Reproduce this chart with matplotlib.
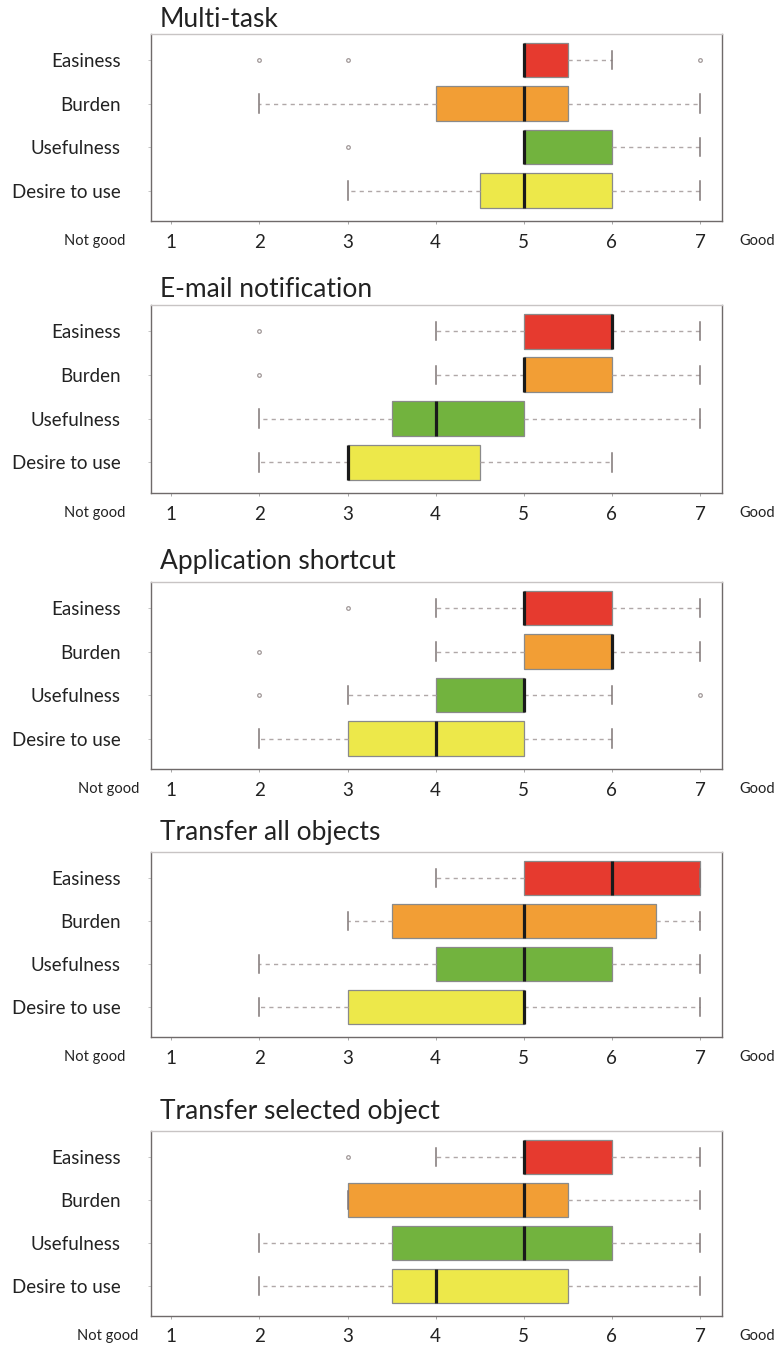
import matplotlib
matplotlib.use("Agg")
import matplotlib.pyplot as plt

plt.rcParams['font.family'] = ['Lato', 'DejaVu Sans']

# Survey items (top to bottom) and the 7-point scale
items = ["Easiness", "Burden", "Usefulness", "Desire to use"]
scale_ticks = [1, 2, 3, 4, 5, 6, 7]
box_colors = ["#E63A2F", "#F29E35", "#72B33E", "#EDE84A"]

# Five-number summaries per feature: whisker low, Q1, median, Q3, whisker high
titles = ["Multi-task", "E-mail notification", "Application shortcut",
          "Transfer all objects", "Transfer selected object"]

whislo = [[5, 2, 5, 3],
          [4, 4, 2, 2],
          [4, 4, 3, 2],
          [4, 3, 2, 2],
          [4, 3, 2, 2]]
q1 = [[5, 4, 5, 4.5],
      [5, 5, 3.5, 3],
      [5, 5, 4, 3],
      [5, 3.5, 4, 3],
      [5, 3, 3.5, 3.5]]
med = [[5, 5, 5, 5],
       [6, 5, 4, 3],
       [5, 6, 5, 4],
       [6, 5, 5, 5],
       [5, 5, 5, 4]]
q3 = [[5.5, 5.5, 6, 6],
      [6, 6, 5, 4.5],
      [6, 6, 5, 5],
      [7, 6.5, 6, 5],
      [6, 5.5, 6, 5.5]]
whishi = [[6, 7, 7, 7],
          [7, 7, 7, 6],
          [7, 7, 6, 6],
          [7, 7, 7, 7],
          [7, 7, 7, 7]]
fliers = [[[2, 3, 7], [], [3], []],
          [[2], [2], [], []],
          [[3], [2], [2, 7], []],
          [[], [], [], []],
          [[3], [], [], []]]

W, H = 774, 1346
fig = plt.figure(figsize=(W / 100, H / 100), dpi=100)

# panel frames in pixels: (top, bottom) of the plotting box, title baseline,
# and horizontal centre of the "Not good" label
frames = [(34, 221, 27, 95), (305, 493, 297, 95), (582, 769, 569, 109),
          (852, 1037, 840, 95), (1131, 1316, 1119, 108)]
left_px, right_px = 151, 722

for p, title in enumerate(titles):
    top, bottom, base, ng_x = frames[p]
    ax = fig.add_axes([left_px / W, 1 - bottom / H,
                       (right_px - left_px) / W, (bottom - top) / H])
    stats = []
    for i, name in enumerate(items):
        stats.append(dict(label=name, whislo=whislo[p][i], q1=q1[p][i],
                          med=med[p][i], q3=q3[p][i], whishi=whishi[p][i],
                          fliers=fliers[p][i]))
    kw = dict(positions=[1, 2, 3, 4], widths=0.8, capwidths=0.42,
              patch_artist=True, showfliers=True,
              boxprops=dict(edgecolor="#8a8a8a", linewidth=0.9),
              medianprops=dict(color="#1a1a1a", linewidth=2.3,
                               solid_capstyle="butt"),
              whiskerprops=dict(color="#b0a8a8", linewidth=1.0,
                                linestyle=(0, (3, 3))),
              capprops=dict(color="#7f7575", linewidth=1.1),
              flierprops=dict(marker="o", markersize=2.6,
                              markerfacecolor="none",
                              markeredgecolor="#a09898",
                              markeredgewidth=0.9))
    try:
        art = ax.bxp(stats, orientation="horizontal", **kw)
    except TypeError:
        art = ax.bxp(stats, vert=False, **kw)
    for patch, c in zip(art["boxes"], box_colors):
        patch.set_facecolor(c)

    ax.set_xlim(0.77, 7.25)
    ax.set_ylim(4.7, 0.4)
    ax.set_xticks(scale_ticks)
    ax.set_xticklabels([str(t) for t in scale_ticks], fontsize=13.5,
                       color="#222222")
    ax.set_yticks([1, 2, 3, 4])
    ax.set_yticklabels(items, fontsize=13.5, color="#222222")
    ax.tick_params(axis="x", length=2, width=0.6, color="#999999", pad=7)
    ax.tick_params(axis="y", length=2, width=0.6, color="#bbbbbb", pad=20)
    for side in ("left", "bottom", "right"):
        ax.spines[side].set_color("#6f6a6a")
        ax.spines[side].set_linewidth(1.0)
    ax.spines["top"].set_color("#c8c4c4")
    ax.spines["top"].set_linewidth(1.0)

    fig.text(160 / W, 1 - base / H, title, fontsize=19, color="#222222",
             ha="left", va="baseline")
    lab_y = 1 - (bottom + 20) / H
    fig.text(ng_x / W, lab_y, "Not good", fontsize=10.5, color="#222222",
             ha="center", va="center")
    fig.text(757 / W, lab_y, "Good", fontsize=10.5, color="#222222",
             ha="center", va="center")

fig.savefig("out.png", dpi=100, facecolor="white")
